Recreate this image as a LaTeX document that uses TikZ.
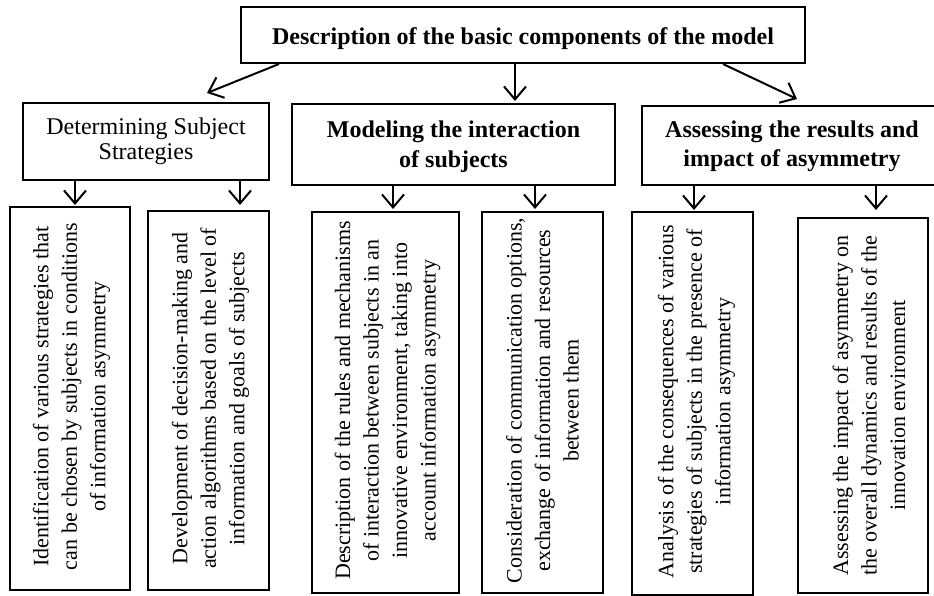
\documentclass[tikz,border=0pt]{standalone}
\usepackage{fontspec}
\setmainfont{Liberation Serif}
\usetikzlibrary{arrows.meta,calc}
\begin{document}
\begin{tikzpicture}[x=1pt,y=-1pt,
  box/.style={draw, line width=2pt, inner sep=0pt},
  lowbox/.style={draw, line width=2.6pt, inner sep=0pt},
  arr/.style={line width=2pt, -{Straight Barb[length=13pt,width=22pt,line width=2pt]}},
  titletext/.style={font=\fontsize{24}{28}\selectfont\bfseries, inner sep=0pt},
  midtext/.style={align=center, inner sep=0pt},
  vtext/.style={rotate=90, align=center, inner sep=0pt, font=\fontsize{22}{28.5}\selectfont}
]
\useasboundingbox (0,0) rectangle (934,596);
\clip (0,0) rectangle (934,596);

% boxes
\node[box, minimum width=564pt, minimum height=56pt] (top) at (523,35) {};
\node[box, minimum width=246pt, minimum height=77pt] (d1) at (146,141.5) {};
\node[box, minimum width=323pt, minimum height=81pt] (d2) at (453.5,144.5) {};
\node[box, minimum width=300pt, minimum height=79pt] (d3) at (792,145.5) {};

\node[lowbox, minimum width=120pt, minimum height=383pt] (b1) at (70,398.5) {};
\node[lowbox, minimum width=121pt, minimum height=379pt] (b2) at (208.5,400.5) {};
\node[lowbox, minimum width=147pt, minimum height=381pt] (b3) at (385.5,402.5) {};
\node[lowbox, minimum width=121pt, minimum height=381pt] (b4) at (542.5,402.5) {};
\node[lowbox, minimum width=121pt, minimum height=383pt] (b5) at (692.5,403.5) {};
\node[lowbox, minimum width=130pt, minimum height=375pt] (b6) at (863,405.5) {};

% texts
\node[titletext] (tt) at ($(top.center)+(0,4)$) {Description of the basic components of the model};
\node[midtext, font=\fontsize{24}{25}\selectfont] (dt1) at (d1.center) {Determining Subject\\Strategies};
\node[midtext, font=\fontsize{24}{30}\selectfont\bfseries] (dt2) at ($(d2.center)+(0,2.5)$) {Modeling the interaction\\of subjects};
\node[midtext, font=\fontsize{24}{29}\selectfont\bfseries] (dt3) at ($(d3.center)+(0,1)$) {Assessing the results and\\impact of asymmetry};

\node[vtext] (t1) at ($(b1.center)+(1.5,-2)$) {Identification of various strategies that\\can be chosen by subjects in conditions\\of information asymmetry};
\node[vtext] (t2) at ($(b2.center)+(2,-2)$) {Development of decision-making and\\action algorithms based on the level of\\information and goals of subjects};
\node[vtext] (t3) at ($(b3.center)+(2,-2)$) {Description of the rules and mechanisms\\of interaction between subjects in an\\innovative environment, taking into\\account information asymmetry};
\node[vtext] (t4) at ($(b4.center)+(0,-2)$) {Consideration of communication options,\\exchange of information and resources\\between them};
\node[vtext] (t5) at ($(b5.center)+(4,-2)$) {Analysis of the consequences of various\\strategies of subjects in the presence of\\information asymmetry};
\node[vtext] (t6) at ($(b6.center)+(6,0)$) {Assessing the impact of asymmetry on\\the overall dynamics and results of the\\innovation environment};

% top arrows
\draw[arr] ([xshift=39pt]top.south west) -- ([xshift=61pt,yshift=9pt]d1.north);
\draw[arr] ([xshift=-8pt]top.south) -- ([xshift=61.5pt,yshift=2pt]d2.north);
\draw[arr] ([xshift=-83pt]top.south east) -- ([xshift=5pt,yshift=6pt]d3.north);

% small arrows
\coordinate (p1) at (75,0);
\coordinate (p2) at (240,0);
\coordinate (p3) at (393,0);
\coordinate (p4) at (535,0);
\coordinate (p5) at (694,0);
\coordinate (p6) at (876,0);
\draw[arr] (d1.south -| p1) -- ++(0,24);
\draw[arr] (d1.south -| p2) -- ++(0,24);
\draw[arr] (d2.south -| p3) -- ++(0,23);
\draw[arr] (d2.south -| p4) -- ++(0,23);
\draw[arr] (d3.south -| p5) -- ++(0,24);
\draw[arr] (d3.south -| p6) -- ++(0,24);
\end{tikzpicture}
\end{document}
